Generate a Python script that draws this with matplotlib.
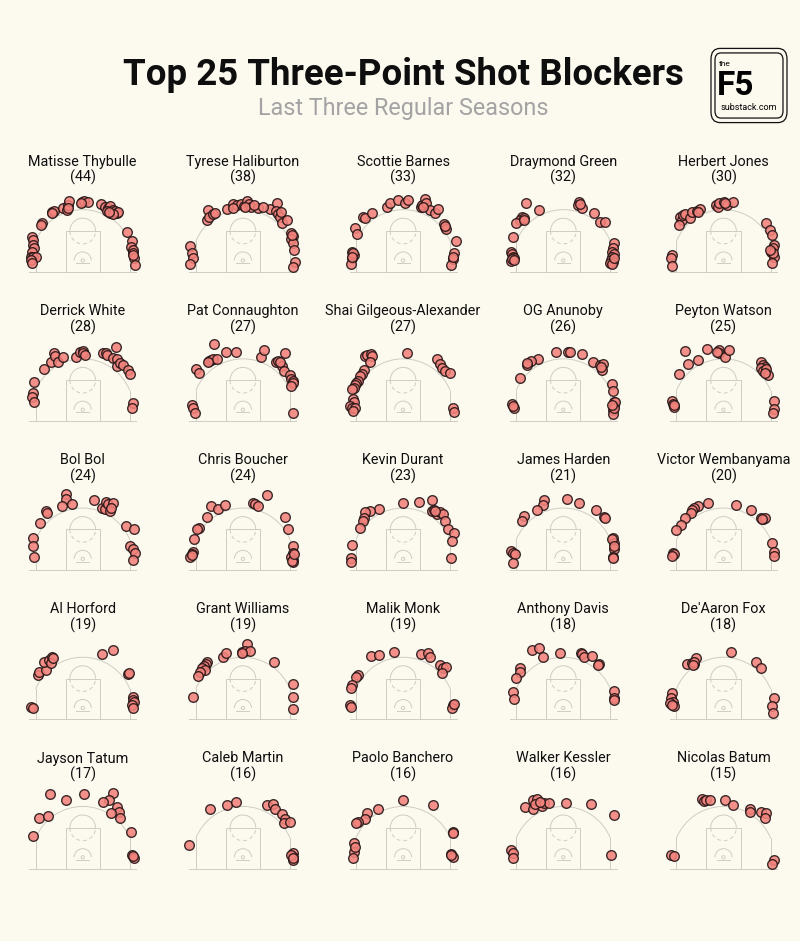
import matplotlib.pyplot as plt
from matplotlib.patches import Arc, Rectangle, Circle, FancyBboxPatch

plt.rcParams['font.family'] = ['Roboto', 'DejaVu Sans']

# players ranked by three-point shots blocked (last three regular seasons)
players = ['Matisse Thybulle', 'Tyrese Haliburton', 'Scottie Barnes', 'Draymond Green', 'Herbert Jones',
	'Derrick White', 'Pat Connaughton', 'Shai Gilgeous-Alexander', 'OG Anunoby', 'Peyton Watson',
	'Bol Bol', 'Chris Boucher', 'Kevin Durant', 'James Harden', 'Victor Wembanyama',
	'Al Horford', 'Grant Williams', 'Malik Monk', 'Anthony Davis', "De'Aaron Fox",
	'Jayson Tatum', 'Caleb Martin', 'Paolo Banchero', 'Walker Kessler', 'Nicolas Batum']
blocks = [44, 38, 33, 32, 30, 28, 27, 27, 26, 25, 24, 24, 23, 21, 20, 19, 19, 19, 18, 18, 17, 16, 16, 16, 15]

# shot locations in feet: x from the middle of the court, y up from the baseline
shotLocs = [
	# Matisse Thybulle
	[(-23.5, 16.4), (-23.1, 14.8), (-23.4, 12.5), (-22.6, 10.9), (-23.8, 9.3), (-24.3, 7.0), (-23.1, 6.7),
	 (-22.0, 6.7), (-24.3, 5.5), (-23.5, 4.2), (-19.2, 22.9), (-19.6, 21.8), (-14.5, 28.0), (-13.4, 28.5),
	 (-14.2, 27.6), (-9.0, 29.6), (-7.5, 28.8), (-6.7, 31.2), (-6.2, 33.2), (-7.0, 29.9), (-0.5, 32.7),
	 (0.6, 33.2), (2.6, 32.7), (-0.9, 31.9), (8.4, 31.5), (10.4, 30.4), (12.0, 29.6), (12.8, 30.7),
	 (11.2, 28.5), (12.8, 27.6), (14.0, 28.8), (15.1, 28.5), (15.9, 27.6), (16.7, 28.0), (14.3, 26.9),
	 (12.5, 28.0), (20.9, 18.4), (23.2, 14.5), (22.6, 11.7), (23.7, 10.1), (23.4, 8.6), (24.0, 6.2),
	 (23.4, 7.8), (24.5, 3.1)],
	# Tyrese Haliburton
	[(-24.8, 12.0), (-24.0, 8.6), (-23.2, 6.2), (-24.5, 3.6), (-16.2, 28.8), (-17.0, 24.1), (-15.7, 25.7),
	 (-13.9, 26.9), (-12.9, 27.3), (-7.6, 29.3), (-4.5, 31.5), (-2.6, 31.2), (-1.1, 31.6), (0.5, 30.8),
	 (2.0, 33.2), (3.0, 31.6), (3.6, 30.4), (0.9, 30.1), (7.2, 29.6), (5.1, 31.2), (12.6, 29.1),
	 (16.0, 32.2), (15.4, 28.5), (16.5, 26.9), (17.3, 25.7), (18.5, 22.9), (17.6, 28.0), (22.7, 18.2),
	 (23.2, 16.7), (22.7, 15.1), (23.5, 13.6), (23.8, 10.1), (24.3, 4.7), (23.2, 2.0), (22.9, 17.1),
	 (-4.5, 29.6), (9.5, 30.4), (20.4, 24.1)],
	# Scottie Barnes
	[(-23.8, 9.3), (-23.1, 7.8), (-23.8, 6.2), (-24.3, 3.6), (-23.4, 8.9), (-22.3, 20.2), (-21.5, 17.6),
	 (-18.7, 25.4), (-17.6, 24.9), (-14.5, 27.6), (-7.5, 30.4), (-5.9, 32.2), (-2.5, 33.5), (1.1, 31.9),
	 (2.2, 33.5), (8.4, 30.4), (8.9, 31.2), (10.4, 33.8), (10.9, 31.9), (12.8, 28.8), (15.1, 27.6),
	 (16.2, 29.1), (19.3, 22.3), (19.8, 20.7), (20.2, 19.8), (24.9, 14.5), (23.7, 8.6), (23.2, 5.8),
	 (22.4, 3.1), (23.4, 7.0), (9.3, 30.1), (-23.7, 7.0), (19.6, 21.3)],
	# Draymond Green
	[(-17.3, 32.2), (-11.5, 28.8), (-19.3, 25.7), (-20.1, 24.1), (-22.0, 22.6), (-18.5, 25.2), (-23.5, 16.0),
	 (-24.5, 9.3), (-24.0, 8.3), (-23.5, 7.0), (-23.2, 6.2), (-24.5, 5.1), (-24.0, 5.8), (-23.2, 5.5),
	 (7.2, 32.7), (6.7, 31.2), (8.7, 29.6), (14.5, 27.6), (17.0, 23.4), (19.6, 23.4), (23.5, 13.2),
	 (23.2, 10.9), (22.7, 9.3), (23.5, 8.3), (22.7, 7.0), (22.3, 5.5), (23.2, 4.7), (22.0, 4.2),
	 (22.7, 3.6), (23.5, 6.2), (-18.5, 24.1), (7.9, 31.5)],
	# Herbert Jones
	[(-20.2, 25.4), (-19.5, 24.1), (-20.6, 21.8), (-18.7, 26.5), (-17.9, 26.9), (-15.6, 24.9), (-14.8, 28.0),
	 (-12.5, 28.5), (-10.9, 29.1), (-11.7, 28.0), (-3.4, 31.2), (-2.8, 30.4), (-2.3, 32.2), (0.0, 32.7),
	 (1.6, 31.2), (4.4, 32.7), (0.8, 31.9), (-24.1, 7.8), (-24.6, 6.2), (-24.1, 2.6), (19.9, 22.6),
	 (21.5, 19.5), (22.6, 17.1), (23.4, 12.5), (23.1, 10.9), (22.1, 9.3), (23.4, 7.0), (22.6, 3.9),
	 (23.1, 8.6), (21.8, 10.1)],
	# Derrick White
	[(-22.7, 18.2), (-23.1, 13.2), (-23.5, 11.4), (-22.7, 8.6), (-17.9, 24.1), (-15.0, 27.3), (-13.4, 31.9),
	 (-12.9, 30.4), (-11.4, 27.7), (-9.3, 29.9), (-3.1, 29.9), (-1.2, 32.2), (0.0, 32.7), (0.3, 31.6),
	 (1.1, 30.7), (9.3, 31.5), (10.9, 31.6), (11.5, 30.7), (14.0, 29.6), (15.6, 34.3), (16.2, 28.8),
	 (15.9, 25.7), (17.4, 26.9), (19.0, 26.0), (21.3, 23.7), (22.1, 21.8), (23.7, 8.3), (22.9, 6.2)],
	# Pat Connaughton
	[(-13.4, 35.8), (-7.9, 32.4), (-3.0, 32.2), (-15.7, 28.0), (-15.1, 28.5), (-13.9, 28.8), (-12.3, 28.8),
	 (-16.2, 27.6), (-21.7, 24.1), (-20.4, 22.6), (-24.0, 7.3), (-23.5, 5.9), (-22.4, 3.9), (8.4, 29.9),
	 (10.0, 33.0), (15.4, 27.7), (16.5, 28.0), (18.5, 25.7), (19.2, 23.4), (19.6, 31.6), (22.0, 21.3),
	 (22.7, 19.8), (23.5, 18.7), (23.2, 17.6), (22.3, 16.4), (23.5, 3.6), (17.3, 27.3)],
	# Shai Gilgeous-Alexander
	[(-17.6, 30.1), (-16.8, 30.7), (-15.0, 31.2), (-14.5, 30.4), (-15.6, 27.6), (-18.4, 23.8), (-19.2, 21.8),
	 (-20.2, 21.0), (-21.2, 18.7), (-21.8, 17.9), (-22.3, 16.7), (-23.1, 15.6), (-23.8, 14.8), (-23.4, 10.1),
	 (-23.1, 8.9), (-24.6, 7.0), (-23.8, 5.8), (-22.3, 6.2), (-23.4, 4.7), (1.9, 31.6), (15.9, 28.8),
	 (17.4, 26.5), (18.2, 24.9), (19.8, 23.4), (21.8, 22.6), (23.4, 6.2), (23.7, 4.2)],
	# OG Anunoby
	[(-3.4, 32.2), (2.3, 32.2), (3.3, 32.2), (8.6, 31.2), (13.7, 27.6), (17.3, 26.0), (18.4, 26.5),
	 (17.9, 23.8), (-12.0, 28.8), (-15.1, 28.0), (-17.0, 26.0), (-20.1, 20.2), (-24.1, 7.8), (-23.2, 6.2),
	 (-23.7, 7.0), (22.6, 17.1), (23.1, 14.0), (23.8, 8.6), (23.5, 7.0), (24.1, 8.9), (23.1, 5.1),
	 (23.4, 3.1), (23.8, 6.2), (17.6, 25.4), (-17.0, 26.9), (22.9, 7.3)],
	# Peyton Watson
	[(-18.2, 32.7), (-7.6, 33.5), (-2.3, 33.0), (-1.9, 31.9), (0.5, 29.9), (2.8, 33.2), (-3.0, 32.2),
	 (-16.7, 26.5), (-12.0, 28.3), (-20.9, 21.8), (17.6, 27.3), (18.4, 26.0), (19.2, 25.4), (17.3, 24.9),
	 (18.4, 23.4), (19.9, 24.1), (20.7, 21.3), (19.2, 22.6), (-24.1, 9.3), (-23.7, 7.8), (-22.9, 6.7),
	 (-23.2, 7.3), (23.8, 9.3), (23.5, 5.5), (23.1, 3.9)],
	# Bol Bol
	[(-7.6, 35.4), (-7.6, 33.0), (-9.5, 29.9), (-4.8, 30.7), (5.1, 32.6), (-17.0, 27.6), (-16.7, 26.5),
	 (-20.1, 22.1), (-23.2, 15.1), (-23.2, 11.2), (-22.7, 6.2), (9.2, 29.1), (10.3, 28.7), (11.1, 31.8),
	 (11.8, 30.7), (14.2, 31.5), (12.9, 27.6), (13.4, 29.1), (20.1, 20.6), (23.8, 19.0), (22.0, 11.2),
	 (23.5, 9.7), (24.3, 7.8), (23.5, 4.7)],
	# Chris Boucher
	[(-15.1, 29.9), (-11.5, 28.7), (-8.4, 30.2), (-17.0, 24.9), (-20.4, 19.8), (-21.3, 19.0), (-22.9, 14.6),
	 (-23.5, 8.4), (-24.0, 7.3), (-24.5, 6.2), (-23.8, 6.9), (4.8, 31.5), (5.6, 31.0), (7.2, 29.9),
	 (11.1, 34.9), (19.6, 24.9), (21.2, 19.0), (23.2, 11.2), (23.5, 8.1), (22.7, 6.2), (23.5, 4.7),
	 (23.2, 3.7), (22.9, 4.2), (23.8, 7.3)],
	# Kevin Durant
	[(-11.1, 28.7), (-15.7, 27.6), (-17.8, 27.1), (-18.5, 24.5), (-18.8, 22.9), (-20.1, 19.8), (-0.2, 31.5),
	 (7.6, 31.6), (13.4, 32.6), (13.4, 27.6), (14.5, 27.9), (15.7, 26.0), (17.3, 27.1), (18.8, 26.0),
	 (19.6, 22.9), (21.2, 19.0), (23.8, 17.4), (22.7, 13.6), (-24.0, 11.7), (-24.5, 5.8), (-24.5, 3.7),
	 (22.3, 5.8), (15.0, 27.6)],
	# James Harden
	[(-9.0, 32.7), (-9.3, 30.2), (-12.5, 28.3), (-18.4, 25.5), (-19.2, 22.9), (1.9, 33.3), (7.3, 31.5),
	 (15.1, 28.3), (19.0, 24.9), (19.3, 24.5), (-24.3, 8.9), (-23.5, 8.1), (-22.7, 7.3), (-23.4, 3.4),
	 (23.4, 15.1), (23.7, 12.8), (23.7, 10.0), (23.4, 6.2), (23.2, 5.8), (22.9, 14.3), (23.7, 11.2)],
	# Victor Wembanyama
	[(-7.3, 31.5), (-11.7, 29.9), (-13.6, 29.1), (-14.8, 28.3), (-15.4, 26.5), (-18.2, 24.5), (-19.8, 21.3),
	 (-22.1, 18.7), (5.9, 30.4), (12.9, 28.0), (17.3, 24.5), (18.4, 23.7), (19.2, 24.5), (17.9, 23.8),
	 (-23.7, 8.1), (-23.2, 7.3), (-24.1, 6.5), (22.6, 12.5), (23.8, 8.4), (23.5, 6.5)],
	# Al Horford
	[(-21.0, 20.7), (-20.2, 22.3), (-17.1, 23.1), (-17.9, 26.9), (-15.6, 27.7), (-14.3, 29.3), (-14.8, 26.5),
	 (-14.0, 28.5), (9.0, 30.4), (14.3, 32.4), (21.0, 21.2), (21.8, 21.8), (-24.1, 5.6), (-23.4, 5.1),
	 (23.4, 10.6), (23.7, 9.0), (24.1, 8.3), (23.1, 6.7), (23.4, 5.1)],
	# Grant Williams
	[(1.7, 35.0), (-0.6, 31.6), (0.9, 32.1), (3.3, 31.9), (-0.2, 31.2), (-9.5, 29.3), (-7.9, 31.2),
	 (-16.7, 26.9), (-17.3, 25.9), (-18.2, 24.9), (-19.3, 23.8), (-17.8, 23.1), (-20.1, 22.3), (-20.9, 20.2),
	 (-23.5, 10.6), (14.5, 26.6), (23.5, 16.5), (23.5, 10.3), (23.2, 4.7)],
	# Malik Monk
	[(-15.1, 29.4), (-11.1, 30.1), (-4.2, 31.6), (8.3, 30.4), (11.8, 31.2), (12.6, 29.1), (17.3, 25.4),
	 (18.8, 23.8), (20.1, 24.3), (18.1, 21.8), (-20.9, 20.7), (-22.0, 19.6), (-24.0, 16.0), (-24.5, 14.5),
	 (-24.8, 6.7), (-24.5, 5.9), (23.2, 6.7), (22.7, 5.1), (23.8, 7.2)],
	# Anthony Davis
	[(-14.6, 32.4), (-11.2, 33.2), (-9.5, 29.3), (-1.7, 30.8), (8.3, 31.2), (8.7, 30.5), (9.5, 29.3),
	 (13.4, 29.8), (16.5, 25.9), (16.0, 25.4), (-20.1, 23.8), (-20.4, 22.3), (-22.0, 19.2), (-23.5, 12.6),
	 (-22.9, 9.3), (23.5, 13.4), (23.5, 9.8), (23.8, 9.0)],
	# De'Aaron Fox
	[(-17.0, 25.9), (-14.8, 26.2), (-13.9, 25.9), (-12.8, 28.5), (-13.6, 27.0), (-14.3, 25.4), (3.3, 31.3),
	 (15.3, 26.9), (17.6, 23.8), (-24.1, 12.1), (-24.5, 9.8), (-23.7, 8.3), (-24.8, 7.5), (-23.2, 6.2),
	 (-24.1, 6.7), (23.8, 9.8), (22.6, 6.2), (23.1, 3.1)],
	# Jayson Tatum
	[(-15.3, 34.7), (-7.8, 32.2), (0.8, 35.0), (14.0, 35.4), (12.5, 31.9), (9.3, 31.2), (-20.6, 23.8),
	 (-16.4, 24.6), (-23.1, 15.1), (15.9, 28.8), (17.1, 26.5), (13.2, 26.0), (17.4, 23.4), (22.6, 17.1),
	 (23.1, 6.2), (24.1, 4.7), (23.4, 5.8)],
	# Caleb Martin
	[(-15.4, 28.0), (-7.2, 29.6), (-3.0, 31.2), (11.1, 29.9), (14.2, 30.1), (15.0, 28.0), (18.1, 25.4),
	 (19.6, 22.9), (19.2, 21.3), (22.0, 21.8), (-25.1, 11.2), (23.5, 7.3), (23.2, 5.5), (23.5, 4.2),
	 (22.7, 6.2), (23.2, 4.7)],
	# Paolo Banchero
	[(0.0, 32.2), (14.0, 29.6), (-11.7, 28.0), (-17.1, 26.0), (-17.9, 22.9), (-21.0, 21.8), (-22.1, 21.3),
	 (-23.1, 11.7), (-23.1, 7.8), (-23.4, 4.7), (-22.6, 10.1), (23.1, 17.1), (23.4, 16.4), (22.6, 7.0),
	 (23.1, 5.5), (22.6, 6.2)],
	# Walker Kessler
	[(-14.2, 32.2), (-12.3, 32.7), (-17.8, 28.8), (-14.2, 28.0), (-10.0, 29.1), (-9.2, 30.4), (-6.9, 30.4),
	 (-13.1, 30.1), (-11.1, 31.2), (1.4, 30.7), (12.9, 30.1), (23.5, 24.9), (-24.5, 8.6), (-23.7, 7.3),
	 (-23.7, 4.7), (22.3, 6.2)],
	# Nicolas Batum
	[(-10.1, 32.7), (-9.2, 31.5), (-8.1, 31.9), (-6.1, 31.9), (0.5, 31.9), (4.4, 29.9), (12.6, 27.6),
	 (12.6, 26.5), (17.6, 26.5), (19.9, 26.0), (19.5, 23.4), (-24.5, 6.2), (-23.2, 5.8), (23.5, 4.2),
	 (22.6, 2.3)],
]

BG = '#FCF9EF'
COURT = '#CFCCC4'
PX_PER_FT = 2.14
W, H = 800, 941


def drawCourt(ax):
	kw = dict(color=COURT, lw=0.7)
	ax.plot([-25, 25], [0, 0], **kw)
	ax.plot([-22, -22], [0, 14.2], **kw)
	ax.plot([22, 22], [0, 14.2], **kw)
	ax.add_patch(Arc((0, 5.25), 47.5, 47.5, theta1=22, theta2=158, **kw))
	ax.add_patch(Rectangle((-8, 0), 16, 19, fill=False, ec=COURT, lw=0.7))
	ax.add_patch(Arc((0, 19), 12, 12, theta1=0, theta2=180, **kw))
	ax.add_patch(Arc((0, 19), 12, 12, theta1=180, theta2=360, ls=(0, (4, 3)), **kw))
	ax.add_patch(Arc((0, 5.25), 8, 8, theta1=0, theta2=180, **kw))
	ax.plot([-3, 3], [4, 4], **kw)
	ax.add_patch(Circle((0, 5.25), 0.75, fill=False, ec=COURT, lw=0.7))


fig = plt.figure(figsize=(W / 100, H / 100), dpi=100, facecolor=BG)

fig.text(403 / W, 1 - 75 / H, 'Top 25 Three-Point Shot Blockers', ha='center', va='center',
	fontsize=26.4, fontweight='bold', color='#0E0E0E')
fig.text(403 / W, 1 - 108 / H, 'Last Three Regular Seasons', ha='center', va='center',
	fontsize=16.8, color='#A3A3A3')

# the F5 logo box
for inset, rad in [(0, 9), (4, 6)]:
	fig.patches.append(FancyBboxPatch(((711 + inset + rad) / W, 1 - (121 - inset - rad) / H),
		(76 - 2 * inset - 2 * rad) / W, (71 - 2 * inset - 2 * rad) / H,
		boxstyle='round,pad=%f' % (rad / W), transform=fig.transFigure, fill=False, ec='#111111', lw=0.9))
fig.text(719 / W, 1 - 64 / H, 'the', fontsize=6, va='center', ha='left')
fig.text(717 / W, 1 - 86 / H, 'F5', fontsize=24, fontweight='bold', va='center', ha='left')
fig.text(749 / W, 1 - 108 / H, 'substack.com', fontsize=6.5, va='center', ha='center')

for i, name in enumerate(players):
	row, col = i // 5, i % 5
	cx = 82.7 + 160.2 * col
	by = 271.7 + 149.2 * row
	ax = fig.add_axes([(cx - 28 * PX_PER_FT) / W, 1 - (by + 2 * PX_PER_FT) / H,
		56 * PX_PER_FT / W, 40 * PX_PER_FT / H])
	ax.set_xlim(-28, 28)
	ax.set_ylim(-2, 38)
	ax.axis('off')
	drawCourt(ax)
	xs = [p[0] for p in shotLocs[i]]
	ys = [p[1] for p in shotLocs[i]]
	ax.scatter(xs, ys, s=48, facecolor='#F2827C', edgecolor='#221414', linewidth=1.0,
		alpha=0.88, zorder=3, clip_on=False)
	fig.text(cx / W, 1 - (by - 110) / H, name, ha='center', va='center', fontsize=10.4, color='#0E0E0E')
	fig.text(cx / W, 1 - (by - 94) / H, '(%d)' % blocks[i], ha='center', va='center', fontsize=10.4,
		color='#0E0E0E')

plt.savefig('out.png', dpi=100, facecolor=BG)
